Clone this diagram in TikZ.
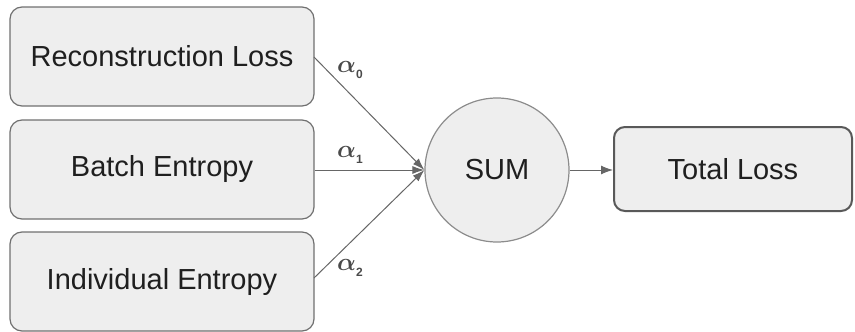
\documentclass[tikz,border=0pt]{standalone}
\usepackage{fontspec}
\usepackage{amsmath,bm}
\setmainfont{Liberation Sans}
\usetikzlibrary{arrows.meta}
\definecolor{boxfill}{HTML}{EEEEEE}
\definecolor{boxline}{HTML}{707070}
\definecolor{wire}{HTML}{666666}
\definecolor{lbl}{HTML}{4A4A4A}
% weight label: bold alpha with a small, lowered index
\newcommand{\wlabel}[1]{$\bm{\alpha}$\raisebox{-6pt}{\fontsize{12}{12}\selectfont\bfseries #1}}
\begin{document}
\begin{tikzpicture}[x=1pt,y=-1pt,
  termbox/.style={draw=boxline, line width=1.2pt, fill=boxfill, rounded corners=12pt,
    minimum width=304pt, minimum height=99pt, inner sep=0pt,
    font=\fontsize{29}{33}\selectfont, text=black!88},
  outbox/.style={draw=black!65, line width=2pt, fill=boxfill, rounded corners=11pt,
    minimum width=238pt, minimum height=84pt, inner sep=0pt,
    font=\fontsize{29}{33}\selectfont, text=black!88},
  sumnode/.style={circle, draw=black!45, line width=1.2pt, fill=boxfill,
    minimum size=144pt, inner sep=0pt, font=\fontsize{29}{33}\selectfont, text=black!88},
  wirearrow/.style={draw=wire, line width=1pt, -{Latex[length=12pt,width=8pt]}},
  weight/.style={text=lbl, font=\fontsize{25}{27}\selectfont, inner sep=0pt}]
\useasboundingbox (0,0) rectangle (855,332);
\node[termbox] (rec) at (162,56.5) {Reconstruction Loss};
\node[termbox] (bat) at (162,169.5) {Batch Entropy};
\node[termbox] (ind) at (162,281.5) {Individual Entropy};
\node[sumnode] (sum) at (497,170) {SUM};
\node[outbox] (tot) at (733,169) {Total Loss};
\coordinate (recout) at (314,57);
\coordinate (indout) at (314,278);
\draw[wirearrow] (recout) -- (sum.west);
\draw[wirearrow] (bat.east |- sum.west) -- (sum.west);
\draw[wirearrow] (indout) -- (sum.west);
\draw[wirearrow, -{Latex[length=12pt,width=9pt]}] (sum.east) -- (tot.west |- sum.east);
\node[weight] (a0) at (350,70) {\wlabel{0}};
\node[weight] (a1) at (350,155) {\wlabel{1}};
\node[weight] (a2) at (350,268) {\wlabel{2}};
\end{tikzpicture}
\end{document}
